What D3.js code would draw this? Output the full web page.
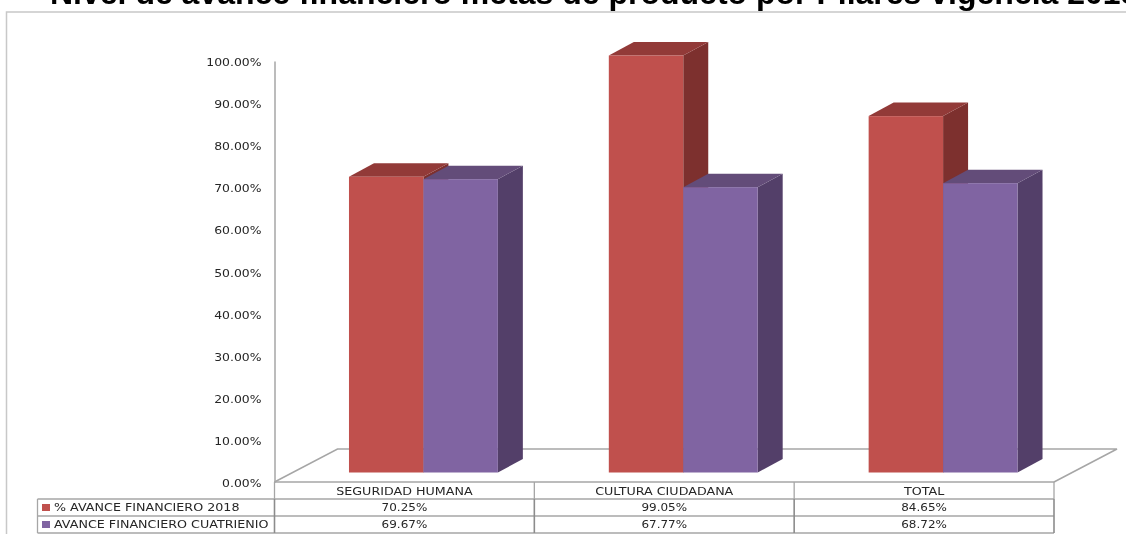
<!DOCTYPE html>
<html><head><meta charset="utf-8">
<script src="https://cdn.jsdelivr.net/npm/d3@7/dist/d3.min.js"></script>
<style>html,body{margin:0;padding:0;background:#fff;overflow:hidden}svg{display:block;filter:blur(0.3px)}</style>
</head><body><svg id="c" width="1126" height="534"></svg>
<script>
const titleText = "Nivel de avance financiero metas de producto por Pilares vigencia 2018";
const categories = ["SEGURIDAD HUMANA","CULTURA CIUDADANA","TOTAL"];
const seriesNames = ["% AVANCE FINANCIERO 2018","AVANCE FINANCIERO CUATRIENIO"];
const avance2018 = [70.25,99.05,84.65];
const avanceCuatrienio = [69.67,67.77,68.72];
const yTicks = [0,10,20,30,40,50,60,70,80,90,100];
const seriesValues = [avance2018, avanceCuatrienio];
const palette = [
  {front:"#C0504D",top:"#923A38",side:"#7D302E"},
  {front:"#8064A2",top:"#634C79",side:"#533F69"}
];
const grey="#a6a6a6", darkGrey="#8c8c8c", textCol="#262626", font="'DejaVu Sans',sans-serif";
const svg=d3.select("#c");
const y=d3.scaleLinear().domain([0,100]).range([482,61]);
const x0=d3.scaleBand().domain(categories).range([274.5,1054]).paddingInner(0.427).paddingOuter(0.2135);
const x1=d3.scaleBand().domain(d3.range(2)).range([0,x0.bandwidth()]);
const shift={x:19,y:-9.5}, depth={x:25,y:-13.5}, floor={x:63,y:-33};
const tickStretch=1.13, numStretch=1.09, capStretch=1.155;

// frame
svg.append("path").attr("d","M6.5,534V12H1126").attr("fill","none").attr("stroke","#c8c8c8").attr("stroke-width",1.5);
svg.append("text").text(titleText).attr("x",50).attr("y",4)
  .attr("font-family","'Liberation Sans',Arial,sans-serif").attr("font-weight","bold").attr("font-size",32).attr("fill","#000");

// floor
const [xa,xb]=x0.range(), y0=y(0);
svg.append("path").attr("d",`M${xa},${y0}L${xa+floor.x},${y0+floor.y}H${xb+floor.x}L${xb},${y0}`)
  .attr("fill","none").attr("stroke",grey).attr("stroke-width",1.5);

// axis
const ax=svg.append("g").attr("transform",`translate(${xa},0)`)
  .call(d3.axisLeft(y).tickValues(yTicks).tickSize(0).tickPadding(13).tickFormat(d=>d3.format(".2f")(d)+"%"));
ax.select(".domain").attr("stroke",grey).attr("stroke-width",1.5);
ax.selectAll("text").attr("font-family",font).attr("font-size",11).attr("fill",textCol)
  .attr("x",-13/tickStretch).attr("y",1).attr("transform",`scale(${tickStretch},1)`);

// bars
const pts=a=>a.map(p=>p.join(",")).join(" ");
categories.forEach((c,i)=>{
  seriesValues.forEach((vals,s)=>{
    const g=svg.append("g"), col=palette[s];
    const l=x0(c)+x1(s)+shift.x, r=l+x1.bandwidth(), b=y(0)+shift.y, t=y(vals[i])+shift.y;
    g.append("polygon").attr("points",pts([[r,t],[r+depth.x,t+depth.y],[r+depth.x,b+depth.y],[r,b]])).attr("fill",col.side);
    g.append("polygon").attr("points",pts([[l,t],[l+depth.x,t+depth.y],[r+depth.x,t+depth.y],[r,t]])).attr("fill",col.top);
    g.append("rect").attr("x",l).attr("y",t).attr("width",r-l).attr("height",b-t).attr("fill",col.front);
  });
});

// data table
const rowY=[482,499,516,533], legX=37.5;
const colX=[xa,...categories.map((c,i)=>xa+x0.step()*(i+1))];
const tl=svg.append("g").attr("stroke",grey).attr("stroke-width",1.3).attr("fill","none");
tl.append("path").attr("d",`M${xa},${rowY[0]}H${xb}`);
[1,2,3].forEach(k=>tl.append("path").attr("d",`M${legX},${rowY[k]}H${xb}`));
tl.append("path").attr("d",`M${legX},${rowY[1]}V${rowY[3]}`);
colX.forEach(v=>{
  tl.append("path").attr("d",`M${v},${rowY[0]}V${rowY[1]}`);
  tl.append("path").attr("d",`M${v},${rowY[1]}V${rowY[3]}`).attr("stroke",darkGrey).attr("stroke-width",1.6);
});
const cellCx=i=>xa+x0.step()*(i+0.5);
const cell=(t,xx,yy,anchor,sx)=>svg.append("text").text(t).attr("transform",`translate(${xx},${yy}) scale(${sx},1)`).attr("text-anchor",anchor)
  .attr("dy","0.36em").attr("font-family",font).attr("font-size",11).attr("fill",textCol);
categories.forEach((c,i)=>cell(c,cellCx(i),(rowY[0]+rowY[1])/2+1,"middle",capStretch));
seriesNames.forEach((n,s)=>{
  const cy=(rowY[s+1]+rowY[s+2])/2;
  svg.append("rect").attr("x",42).attr("y",cy-3.5).attr("width",8).attr("height",7).attr("fill",palette[s].front);
  cell(n,54,cy,"start",capStretch);
  seriesValues[s].forEach((v,i)=>cell(d3.format(".2f")(v)+"%",cellCx(i),cy,"middle",numStretch));
});
</script></body></html>
